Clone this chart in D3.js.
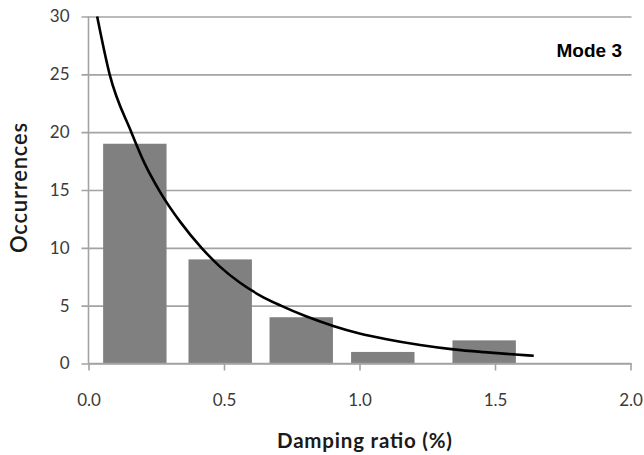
<!DOCTYPE html>
<html>
<head>
<meta charset="utf-8">
<script src="https://cdn.jsdelivr.net/npm/d3@7/dist/d3.min.js"></script>
<style>
  html, body { margin: 0; padding: 0; background: #fff; }
  svg { display: block; }
</style>
</head>
<body>
<svg id="chart" width="644" height="455"></svg>
<script>
// Histogram of damping ratios (mode 3) with a fitted distribution curve
const binCenters = [0.171, 0.486, 0.785, 1.086, 1.46];
const counts = [19, 9, 4, 1, 2];
const binWidth = 0.234;

// Fitted curve, sampled along the damping ratio axis
const fitX = [0.032, 0.078, 0.158, 0.207, 0.265, 0.34, 0.417, 0.484, 0.558, 0.632, 0.71, 0.80, 0.903, 1.0, 1.1, 1.224, 1.347, 1.46, 1.575, 1.643];
const fitY = [30, 25, 20, 17.3, 14.8, 12.2, 10, 8.4, 7.0, 5.9, 5.0, 4.1, 3.25, 2.6, 2.1, 1.6, 1.22, 0.98, 0.78, 0.67];

const xTicks = [0, 0.5, 1.0, 1.5, 2.0];
const yTicks = [0, 5, 10, 15, 20, 25, 30];
const modeLabel = "Mode 3";
const xTitle = "Damping ratio (%)";
const yTitle = "Occurrences";

const svg = d3.select("#chart");
const plot = { left: 88.5, right: 630.5, top: 16.5, bottom: 363.5 };

const x = d3.scaleLinear().domain([0, 2]).range([plot.left, plot.right]);
const y = d3.scaleLinear().domain([0, 30]).range([plot.bottom, plot.top]);

const font = "Lato, 'Open Sans', sans-serif";
const gridColor = "#a3a3a3";

// horizontal gridlines, extending a little past the axis as ticks
const grid = svg.append("g")
  .attr("transform", `translate(${plot.left},0)`)
  .call(d3.axisLeft(y).tickValues(yTicks).tickSize(7).tickPadding(12).tickFormat(d3.format("d")));
grid.select(".domain").remove();
grid.selectAll(".tick line")
  .attr("x1", plot.right - plot.left + 1)
  .attr("x2", -7)
  .attr("stroke", gridColor)
  .attr("stroke-width", 1.6);
grid.selectAll(".tick text")
  .attr("font-family", font)
  .attr("font-size", 17)
  .attr("fill", "#3a3a3a");

// bars
svg.append("g").selectAll("rect")
  .data(binCenters.map((c, i) => ({ c, n: counts[i] })))
  .join("rect")
  .attr("x", d => x(d.c - binWidth / 2))
  .attr("width", d => x(d.c + binWidth / 2) - x(d.c - binWidth / 2))
  .attr("y", d => y(d.n))
  .attr("height", d => y(0) - y(d.n))
  .attr("fill", "#808080");

// y axis line
svg.append("line")
  .attr("x1", plot.left).attr("x2", plot.left)
  .attr("y1", plot.top).attr("y2", plot.bottom)
  .attr("stroke", gridColor).attr("stroke-width", 1.6);

// x axis
const xAxis = svg.append("g")
  .attr("transform", `translate(0,${plot.bottom})`)
  .call(d3.axisBottom(x).tickValues(xTicks).tickSize(7).tickFormat(d3.format(".1f")));
xAxis.select(".domain")
  .attr("d", `M${plot.left},0H${plot.right + 1}`)
  .attr("stroke", gridColor).attr("stroke-width", 1.6);
xAxis.selectAll(".tick line").attr("stroke", gridColor).attr("stroke-width", 1.6);
xAxis.selectAll(".tick text")
  .attr("y", 42.5).attr("dy", 0)
  .attr("font-family", font)
  .attr("font-size", 17)
  .attr("fill", "#3a3a3a");

// fitted curve
const line = d3.line()
  .x((d, i) => x(fitX[i]))
  .y(d => y(d))
  .curve(d3.curveMonotoneX);
svg.append("path")
  .datum(fitY)
  .attr("d", line)
  .attr("fill", "none")
  .attr("stroke", "#000")
  .attr("stroke-width", 2.6);

// panel label
svg.append("text")
  .attr("x", 622).attr("y", 57)
  .attr("text-anchor", "end")
  .attr("font-family", "'Liberation Sans', Arial, sans-serif")
  .attr("font-weight", "bold")
  .attr("font-size", 19)
  .attr("fill", "#000")
  .text(modeLabel);

// axis titles
svg.append("text")
  .attr("x", 364.5).attr("y", 447.5)
  .attr("text-anchor", "middle")
  .attr("font-family", font)
  .attr("font-weight", "bold")
  .attr("font-size", 20.5)
  .attr("fill", "#1a1a1a")
  .attr("textLength", 175)
  .text(xTitle);

svg.append("text")
  .attr("transform", "translate(26.5,188) rotate(-90)")
  .attr("text-anchor", "middle")
  .attr("font-family", font)
  .attr("font-weight", 600)
  .attr("font-size", 22)
  .attr("fill", "#1a1a1a")
  .attr("textLength", 130)
  .text(yTitle);
</script>
</body>
</html>
